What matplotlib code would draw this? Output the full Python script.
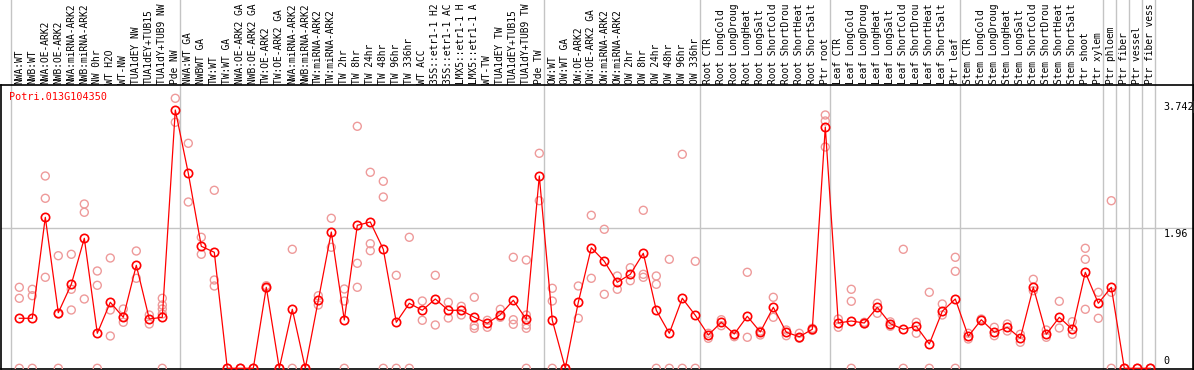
import matplotlib
matplotlib.use("Agg")
import numpy as np
import matplotlib.pyplot as plt
from matplotlib.transforms import blended_transform_factory

gene = "Potri.013G104350"

labels = [
    "NWA:WT", "NWB:WT", "NWA:OE-ARK2", "NWB:OE-ARK2", "NWA:miRNA-ARK2", "NWB:miRNA-ARK2",
    "NW 0hr", "WT H2O", "WT-NW", "TUA1dEY NW", "TUA1dEY+TUB15", "TUA1dY+TUB9 NW", "Pde NW",
    "NWA:WT GA", "NWBWT GA", "TW:WT", "TW:WT GA", "NWA:OE-ARK2 GA", "NWB:OE-ARK2 GA",
    "TW:OE-ARK2", "TW:OE-ARK2 GA", "NWA:miRNA-ARK2", "NWB:miRNA-ARK2", "TW:miRNA-ARK2",
    "TW:miRNA-ARK2", "TW 2hr", "TW 8hr", "TW 24hr", "TW 48hr", "TW 96hr", "TW 336hr",
    "WT ACC", "35S::etr1-1 H2", "35S::etr1-1 AC", "LMX5::etr1-1 H", "LMX5::etr1-1 A",
    "WT-TW", "TUA1dEY TW", "TUA1dEY+TUB15", "TUA1dY+TUB9 TW", "Pde TW",
    "OW:WT", "OW:WT GA", "OW:OE-ARK2", "OW:OE-ARK2 GA", "OW:miRNA-ARK2", "OW:miRNA-ARK2",
    "OW 2hr", "OW 8hr", "OW 24hr", "OW 48hr", "OW 96hr", "OW 336hr",
    "Root CTR", "Root LongCold", "Root LongDroug", "Root LongHeat", "Root LongSalt",
    "Root ShortCold", "Root ShortDrou", "Root ShortHeat", "Root ShortSalt", "Ptr root",
    "Leaf CTR", "Leaf LongCold", "Leaf LongDroug", "Leaf LongHeat", "Leaf LongSalt",
    "Leaf ShortCold", "Leaf ShortDrou", "Leaf ShortHeat", "Leaf ShortSalt", "Ptr leaf",
    "Stem CTR", "Stem LongCold", "Stem LongDroug", "Stem LongHeat", "Stem LongSalt",
    "Stem ShortCold", "Stem ShortDrou", "Stem ShortHeat", "Stem ShortSalt", "Ptr shoot",
    "Ptr xylem", "Ptr phloem", "Ptr fiber", "Ptr vessel", "Ptr fiber vess",
]

# number of samples in each block (gray separators)
group_sizes = [13, 28, 12, 10, 10, 11, 1, 1, 1, 1]

means = [
    0.700, 0.700, 2.114, 0.778, 1.176, 1.820, 0.490, 0.924, 0.714, 1.442, 0.690, 0.714, 3.616,
    2.730, 1.708, 1.624, 0.0, 0.0, 0.0, 1.134, 0.0, 0.826, 0.0, 0.952, 1.908, 0.676, 2.002,
    2.048, 1.666, 0.644, 0.910, 0.812, 0.970, 0.812, 0.812, 0.714, 0.630, 0.750, 0.952, 0.686,
    2.692,
    0.672, 0.0, 0.924, 1.688, 1.498, 1.204, 1.316, 1.610, 0.812, 0.490, 0.980, 0.742,
    0.466, 0.644, 0.480, 0.728, 0.508, 0.854, 0.504, 0.442, 0.546, 3.378,
    0.634, 0.662, 0.634, 0.854, 0.624, 0.546, 0.588, 0.340, 0.798, 0.970,
    0.448, 0.680, 0.504, 0.574, 0.420, 1.134, 0.476, 0.714, 0.546, 1.344,
    0.910, 1.134, 0.0, 0.0, 0.0,
]

reps = [
    [1.134, 0.980, 0.0], [1.106, 1.016, 0.0], [2.692, 2.380, 1.274], [1.576, 0.760, 0.0],
    [1.596, 1.106, 0.816], [2.300, 2.184, 0.970], [1.362, 1.162, 0.0], [1.544, 0.816, 0.452],
    [0.830, 0.714, 0.644], [1.642, 1.260], [0.746, 0.620], [0.980, 0.886, 0.830, 0.760, 0.0],
    [3.780, 3.444],
    [3.150, 2.328], [1.834, 1.596], [2.492, 1.236, 1.152], [0.0], [0.0], [0.0], [1.156, 1.120],
    [0.0], [1.666, 0.0], [0.0], [1.016, 0.886], [2.100, 1.694], [1.110, 0.942, 0.0],
    [3.388, 1.470, 1.134], [2.744, 1.744, 1.646], [2.618, 2.398, 0.0], [1.302, 0.0],
    [1.834, 0.0], [0.942, 0.672], [1.302, 0.606], [0.924, 0.704], [0.868, 0.746],
    [0.994, 0.596, 0.560], [0.672, 0.574], [0.826, 0.714], [1.554, 0.680, 0.616],
    [1.516, 0.746, 0.606, 0.560, 0.0], [3.010, 2.346],
    [1.120, 0.942, 0.0], [0.0], [1.152, 0.700], [2.142, 1.260], [1.946, 1.036], [1.292, 1.106],
    [1.408, 1.226], [2.212, 1.316, 1.274], [1.292, 1.176, 0.0], [1.526, 0.0], [2.996, 0.0],
    [1.498, 0.0],
    [0.490, 0.420], [0.680, 0.596], [0.466, 0.442], [1.344, 0.434], [0.466, 0.520],
    [0.994, 0.714], [0.536, 0.456], [0.490, 0.420], [0.560, 0.530], [3.546, 3.462, 3.098],
    [0.574, 0.690], [1.106, 0.938, 0.0], [0.644, 0.620], [0.910, 0.770], [0.588, 0.650],
    [1.666, 0.0], [0.644, 0.490], [1.064, 0.0], [0.900, 0.746], [1.554, 1.358, 0.0],
    [0.490, 0.410], [0.680, 0.690], [0.574, 0.456], [0.620, 0.522], [0.476, 0.364],
    [1.246, 1.086], [0.536, 0.434], [0.938, 0.564], [0.652, 0.476], [1.680, 1.526, 0.826],
    [1.064, 0.700], [2.346, 1.064, 0.0], [0.0], [0.0], [0.0],
]

ytick_vals = [3.742, 1.96, 0]

W, H = 1194, 370
fig = plt.figure(figsize=(W / 100, H / 100), dpi=100)
ax = fig.add_axes([0.5 / W, 1 / H, 1193 / W, 284 / H])

x = np.arange(len(labels))
px = 13.0  # pixels per sample
ax.set_xlim((0.5 - 19.3) / px, (1193.5 - 19.3) / px)
ax.set_ylim(-0.01, 3.966)

font = {"family": "DejaVu Sans Mono", "size": 7.3}
lab_font = {"family": "DejaVu Sans Mono", "size": 6.9}
light = "#ee9a9a"
red = "#ff0000"
gray = "#c4c4c4"

# replicate points
rx = [i for i, r in enumerate(reps) for v in r]
ry = [v for r in reps for v in r]
ax.scatter(rx, ry, s=33, facecolors="none", edgecolors=light, linewidths=1.0, zorder=3)

# mean line and markers
ax.plot(x, means, color=red, lw=0.9, zorder=4)
ax.plot(x, means, "o", ms=6.0, mfc="none", mec=red, mew=1.2, zorder=5)

# separators between blocks, running up through the label strip
blend = blended_transform_factory(ax.transData, fig.transFigure)
ends = np.cumsum([0] + group_sizes) - 1
for e in ends:
    ax.plot([e + 0.36, e + 0.36], [1 / H, 1], color=gray, lw=1.0, transform=blend,
            clip_on=False, zorder=1)

ax.axhline(1.96, color=gray, lw=1.0, zorder=1)

# rotated sample labels above the frame
for i, lab in enumerate(labels):
    ax.text(i, (H - 84) / H, lab, transform=blend, rotation=90, ha="center", va="bottom",
            color="black", clip_on=False, **lab_font)

# value labels on the right
for v in ytick_vals:
    if v == 0:
        ax.annotate(str(v), (88.0, v), xytext=(0, 2), textcoords="offset pixels",
                    ha="left", va="bottom", zorder=6, **font)
    else:
        ax.annotate(str(v), (88.0, v), xytext=(0, -1), textcoords="offset pixels",
                    ha="left", va="top", zorder=6,
                    bbox=dict(boxstyle="square,pad=0.05", fc="white", ec="none"), **font)

ax.annotate(gene, (0, 1), xycoords="axes fraction", xytext=(9, -12),
            textcoords="offset pixels", ha="left", va="center", color=red, **font)

ax.set_xticks([])
ax.set_yticks([])
for s in ax.spines.values():
    s.set_color("black")
    s.set_linewidth(1.2)

# right border goes all the way up
fig.add_artist(plt.Line2D([1 - 1 / W, 1 - 1 / W], [0, 1], color="black", lw=1.2))

fig.savefig("out.png", dpi=100)
